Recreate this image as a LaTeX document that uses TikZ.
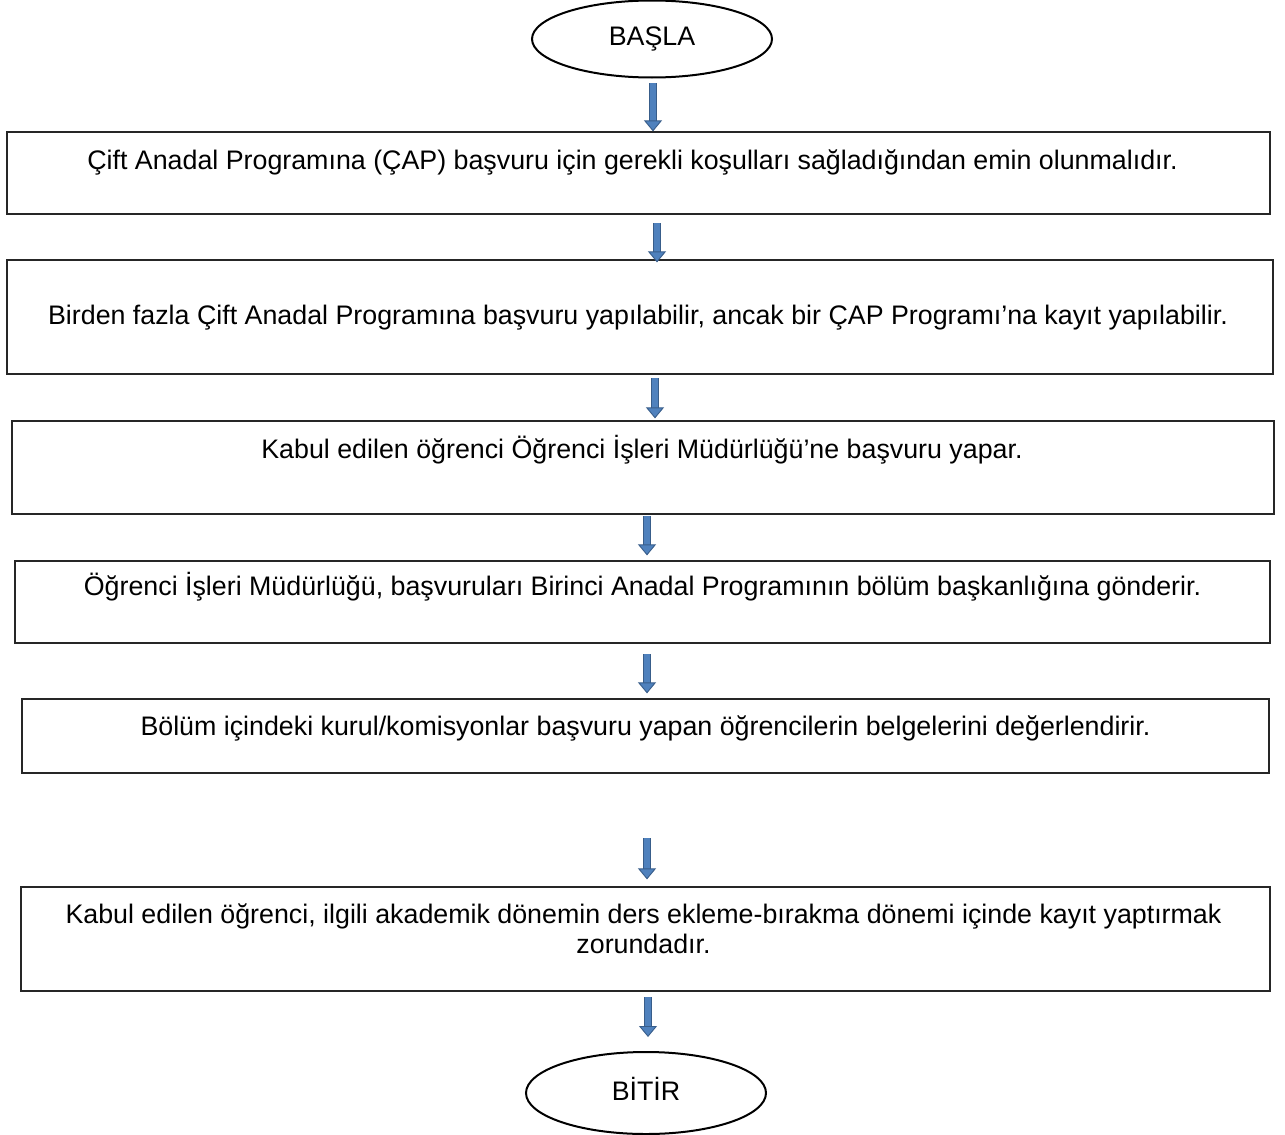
\documentclass[tikz,border=0pt]{standalone}
\usepackage{fontspec}
\setmainfont{Liberation Sans}
\usetikzlibrary{shapes.geometric,arrows.meta,calc}
\definecolor{arrowfill}{HTML}{4F81BD}
\definecolor{arrowedge}{HTML}{385D8A}
\tikzset{
	stepbox/.style = {draw = black!85, line width = 1.2pt, rectangle, inner sep = 0pt},
	steptext/.style = {font = \fontsize{26.8}{30}\selectfont, align = center, inner sep = 0pt},
	endpoint/.style = {draw = black, line width = 2pt, ellipse, inner sep = 0pt, font = \fontsize{26.8}{30}\selectfont},
	blockarrow/.style = {draw = arrowedge, line width = 0.9pt, double = arrowfill, double distance = 6.5pt,
		-{Triangle[width = 18pt, length = 11pt, fill = arrowfill, color = arrowedge, line width = 0.9pt]}}
}
\begin{document}
\begin{tikzpicture}[x = 1pt, y = -1pt]
	\useasboundingbox (0,0) rectangle (1285,1135);
	\node[endpoint, minimum width = 240pt, minimum height = 77pt] (start) at (652,39) {BAŞLA};
	\node[stepbox, minimum width = 1263pt, minimum height = 82pt] (b1) at (638.5,173) {};
	\node[stepbox, minimum width = 1266pt, minimum height = 114pt] (b2) at (640,317) {};
	\node[stepbox, minimum width = 1262pt, minimum height = 93pt] (b3) at (643,467.5) {};
	\node[stepbox, minimum width = 1255pt, minimum height = 82pt] (b4) at (642.5,602) {};
	\node[stepbox, minimum width = 1247pt, minimum height = 74pt] (b5) at (645.5,736) {};
	\node[stepbox, minimum width = 1249pt, minimum height = 104pt] (b6) at (645.5,939) {};
	\node[endpoint, minimum width = 240pt, minimum height = 82pt, text depth = 8pt] (finish) at (646,1093) {BİTİR};
	% texts
	\node[steptext] (t1) at ($(b1.north)+(-6,31)$) {Çift Anadal Programına (ÇAP) başvuru için gerekli koşulları sağladığından emin olunmalıdır.};
	\node[steptext] (t2) at ($(b2.center)+(-2,1)$) {Birden fazla Çift Anadal Programına başvuru yapılabilir, ancak bir ÇAP Programı’na kayıt yapılabilir.};
	\node[steptext] (t3) at ($(b3.north)+(-1,29)$) {Kabul edilen öğrenci Öğrenci İşleri Müdürlüğü’ne başvuru yapar.};
	\node[steptext] (t4) at ($(b4.north)+(0,26)$) {Öğrenci İşleri Müdürlüğü, başvuruları Birinci Anadal Programının bölüm başkanlığına gönderir.};
	\node[steptext] (t5) at ($(b5.north)+(0,30)$) {Bölüm içindeki kurul/komisyonlar başvuru yapan öğrencilerin belgelerini değerlendirir.};
	\node[steptext, anchor = north] (t6) at ($(b6.north)+(-2,17)$) {Kabul edilen öğrenci, ilgili akademik dönemin ders ekleme-bırakma dönemi içinde kayıt yaptırmak\\zorundadır.};
	% arrows
	\coordinate (a1) at (653,83);
	\coordinate (a2) at (657,223);
	\coordinate (a3) at (655,378);
	\coordinate (a4) at (647,516);
	\coordinate (a5) at (647,654);
	\coordinate (a6) at (647,838);
	\coordinate (a7) at (648,997);
	\draw[blockarrow] (a1) -- (a1 |- b1.north);
	\draw[blockarrow] (a2) -- ($(a2 |- b2.north)+(0,3)$);
	\draw[blockarrow] (a3) -- ($(a3 |- b3.north)+(0,-2)$);
	\draw[blockarrow] (a4) -- ($(a4 |- b4.north)+(0,-5)$);
	\draw[blockarrow] (a5) -- ($(a5 |- b5.north)+(0,-5)$);
	\draw[blockarrow] (a6) -- ($(a6 |- b6.north)+(0,-7)$);
	\draw[blockarrow] (a7) -- ($(a7 |- finish.north)+(0,-14)$);
\end{tikzpicture}
\end{document}
